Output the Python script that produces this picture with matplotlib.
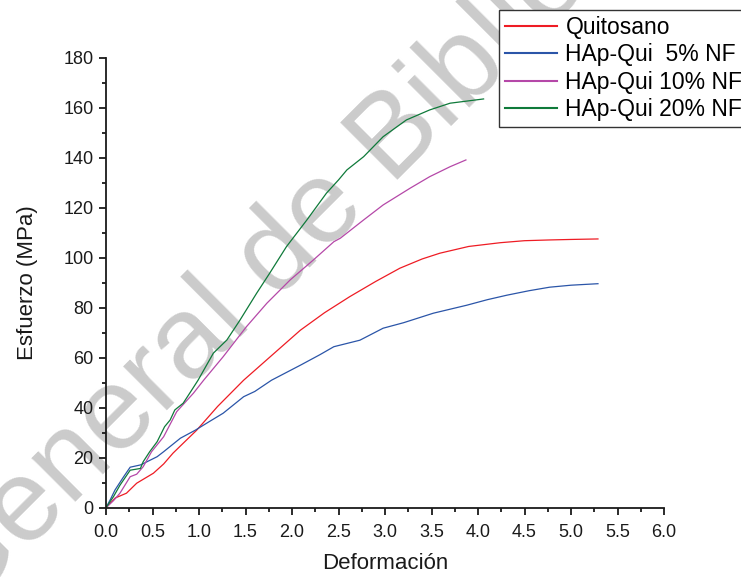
import matplotlib
matplotlib.use("Agg")
import matplotlib.pyplot as plt
from matplotlib.ticker import MultipleLocator

plt.rcParams['font.family'] = ['Liberation Sans', 'DejaVu Sans']

# Data
quit_x = [0.0, 0.05, 0.10, 0.22, 0.33, 0.42, 0.51, 0.62, 0.72, 0.85, 0.975, 1.2, 1.48, 1.8, 2.09, 2.35, 2.62, 2.9,
          3.16, 3.4, 3.59, 3.9, 4.24, 4.5, 4.77, 5.0, 5.29]
quit_y = [0.0, 2.0, 3.9, 5.8, 9.8, 11.8, 13.8, 17.5, 21.8, 26.5, 31.0, 40.5, 51.0, 61.5, 71.0, 78.0, 84.4, 90.5,
          95.8, 99.5, 101.8, 104.5, 106.0, 106.8, 107.1, 107.3, 107.5]

hap5_x = [0.0, 0.05, 0.097, 0.19, 0.26, 0.37, 0.42, 0.55, 0.62, 0.8, 0.96, 1.1, 1.26, 1.48, 1.6, 1.78, 2.09, 2.3,
          2.45, 2.73, 2.98, 3.2, 3.52, 3.88, 4.1, 4.31, 4.55, 4.77, 5.0, 5.29]
hap5_y = [0.0, 3.5, 7.1, 12.4, 16.2, 17.1, 18.0, 20.4, 22.4, 27.8, 31.0, 34.2, 37.8, 44.4, 46.5, 51.0, 57.0, 61.2,
          64.4, 67.0, 71.8, 74.0, 77.8, 81.0, 83.2, 85.0, 86.8, 88.2, 89.0, 89.6]

hap10_x = [0.0, 0.08, 0.15, 0.26, 0.33, 0.40, 0.49, 0.62, 0.76, 0.94, 1.05, 1.26, 1.51, 1.73, 1.98, 2.23, 2.45,
           2.52, 2.77, 2.98, 3.27, 3.48, 3.70, 3.87]
hap10_y = [0.0, 2.8, 5.8, 12.4, 13.4, 16.4, 22.4, 28.4, 38.4, 45.8, 51.0, 60.4, 72.4, 81.8, 91.1, 99.1, 106.4,
           107.8, 115.1, 121.1, 127.8, 132.4, 136.4, 139.1]

hap20_x = [0.0, 0.08, 0.15, 0.26, 0.37, 0.40, 0.47, 0.55, 0.63, 0.69, 0.74, 0.83, 0.90, 0.99, 1.154, 1.30, 1.44,
           1.62, 1.76, 1.94, 2.16, 2.37, 2.50, 2.59, 2.77, 2.98, 3.23, 3.48, 3.70, 4.06]
hap20_y = [0.0, 4.4, 9.0, 15.0, 15.7, 18.4, 22.4, 26.4, 32.4, 35.1, 39.1, 41.8, 45.8, 51.0, 61.8, 67.1, 75.0,
           85.8, 93.8, 104.4, 115.1, 125.8, 131.1, 135.1, 140.4, 148.4, 155.1, 159.1, 161.8, 163.5]

labels = ['Quitosano', 'HAp-Qui  5% NF', 'HAp-Qui 10% NF', 'HAp-Qui 20% NF']
colors = ['#ee1c24', '#2b55a8', '#b548a8', '#0f7a3a']

fig = plt.figure(figsize=(7.41, 5.78), dpi=100)
ax = fig.add_axes([106/741, 1-507.7/578, (664-106)/741, (507.7-57.7)/578])
ax.set_zorder(1)
ax.set_facecolor('none')

# watermark (behind the chart)
fig.text(-40/741, 1-617/578, 'General de Bibliotecas', fontsize=84, color='#cbcbcb',
         rotation=45, rotation_mode='anchor', ha='left', va='baseline', zorder=0)

for xs, ys, lab, c in zip([quit_x, hap5_x, hap10_x, hap20_x], [quit_y, hap5_y, hap10_y, hap20_y], labels, colors):
    ax.plot(xs, ys, color=c, lw=0.9, label=lab)

ax.set_xlim(0, 6)
ax.set_ylim(0, 180)
ax.xaxis.set_major_locator(MultipleLocator(0.5))
ax.xaxis.set_minor_locator(MultipleLocator(0.25))
ax.yaxis.set_major_locator(MultipleLocator(20))
ax.yaxis.set_minor_locator(MultipleLocator(10))
ax.set_xticks([0, 0.5, 1, 1.5, 2, 2.5, 3, 3.5, 4, 4.5, 5, 5.5, 6])
ax.set_xticklabels(['0.0', '0.5', '1.0', '1.5', '2.0', '2.5', '3.0', '3.5', '4.0', '4.5', '5.0', '5.5', '6.0'])

for s in ['top', 'right']:
    ax.spines[s].set_visible(False)
for s in ['left', 'bottom']:
    ax.spines[s].set_linewidth(1.3)
    ax.spines[s].set_color('#1a1a1a')
ax.tick_params(which='major', direction='out', length=5, width=1.3, labelsize=13, colors='#1a1a1a')
ax.tick_params(which='minor', direction='out', length=3, width=1.3, colors='#1a1a1a')
ax.tick_params(axis='x', which='major', pad=6.5)
ax.tick_params(axis='y', which='major', pad=4)

ax.set_xlabel('Deformación', fontsize=16, color='#1a1a1a', labelpad=9)
ax.set_ylabel('Esfuerzo (MPa)', fontsize=16, color='#1a1a1a', labelpad=18)

leg = fig.legend(loc='upper left', bbox_to_anchor=(499/741, 1-10/578), fontsize=16.5, frameon=True,
                 fancybox=False, edgecolor='#333333', framealpha=1, borderaxespad=0, borderpad=0.25,
                 handlelength=2.3, handletextpad=0.35, labelspacing=0.2)
leg.get_frame().set_linewidth(1.0)
leg.set_zorder(10)
for line in leg.get_lines():
    line.set_linewidth(1.5)

fig.savefig('out.png', dpi=100)
